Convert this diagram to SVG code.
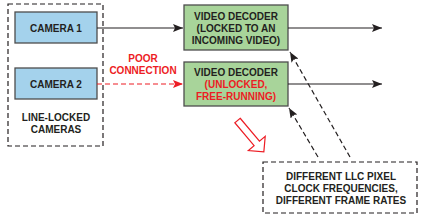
<svg xmlns="http://www.w3.org/2000/svg" width="421" height="218" viewBox="0 0 421 218">
<defs>
<style>
.t{font-family:"Liberation Sans",Arial,sans-serif;font-weight:bold;font-size:10px;text-anchor:middle;fill:#231f20}
.r{fill:#ed1c24}
.cam{fill:#a4d2ec;stroke:#4d4d4d;stroke-width:1.3}
.dec{fill:#a8d49a;stroke:#4d4d4d;stroke-width:1.3}
.dash{fill:none;stroke:#231f20;stroke-width:1.2;stroke-dasharray:5,3}
.ln{stroke:#231f20;stroke-width:1.2;fill:none}
</style>
<marker id="ah" viewBox="0 0 10 8" refX="10" refY="4" markerWidth="10" markerHeight="8" markerUnits="userSpaceOnUse" orient="auto"><path d="M0,0L10,4L0,8L2,4z" fill="#231f20"/></marker>
<marker id="ahr" viewBox="0 0 10 8" refX="10" refY="4" markerWidth="10" markerHeight="8" markerUnits="userSpaceOnUse" orient="auto"><path d="M0,0L10,4L0,8L2,4z" fill="#ed1c24"/></marker>
</defs>
<g id="cameras-group">
<rect class="dash" x="8" y="4" width="95" height="142"/>
<text class="t" x="56" y="121">LINE-LOCKED</text>
<text class="t" x="56" y="133">CAMERAS</text>
</g>
<g id="camera1"><rect class="cam" x="15" y="12" width="82" height="31"/><text class="t" x="56" y="31.5">CAMERA 1</text></g>
<g id="camera2"><rect class="cam" x="15" y="68" width="82" height="31"/><text class="t" x="56" y="87.5">CAMERA 2</text></g>
<g id="decoder1"><rect class="dec" x="184" y="5" width="104" height="45"/>
<text class="t" x="236" y="19.5">VIDEO DECODER</text><text class="t" x="236" y="31.5">(LOCKED TO AN</text><text class="t" x="236" y="44">INCOMING VIDEO)</text></g>
<g id="decoder2"><rect class="dec" x="184" y="62" width="104" height="44"/>
<text class="t" x="236" y="75.5">VIDEO DECODER</text><text class="t r" x="236" y="87.5">(UNLOCKED,</text><text class="t r" x="236" y="100">FREE-RUNNING)</text></g>
<g id="note"><rect class="dash" x="263" y="162" width="154" height="51"/>
<text class="t" x="341" y="179.5">DIFFERENT LLC PIXEL</text><text class="t" x="341" y="191.5">CLOCK FREQUENCIES,</text><text class="t" x="341" y="203.5">DIFFERENT FRAME RATES</text></g>
<g id="connectors">
<line class="ln" x1="97" y1="28" x2="183" y2="28" marker-end="url(#ah)"/>
<line x1="97" y1="84" x2="183" y2="84" stroke="#ed1c24" stroke-width="1.2" stroke-dasharray="5,3" marker-end="url(#ahr)"/>
<text class="t r" x="143" y="62">POOR</text>
<text class="t r" x="143" y="74">CONNECTION</text>
<line class="ln" x1="288" y1="28" x2="382" y2="28" marker-end="url(#ah)"/>
<line class="ln" x1="288" y1="84" x2="382" y2="84" marker-end="url(#ah)"/>
<line class="dash" x1="350" y1="157" x2="290" y2="52" marker-end="url(#ah)"/>
<line class="dash" x1="318" y1="157" x2="289" y2="108" marker-end="url(#ah)"/>
<polygon transform="translate(237.5,120.5) rotate(50)" points="0,-3.5 30,-3.5 30,-11 41,0 30,11 30,3.5 0,3.5" fill="#fff" stroke="#ed1c24" stroke-width="1.2"/>
</g>
</svg>
